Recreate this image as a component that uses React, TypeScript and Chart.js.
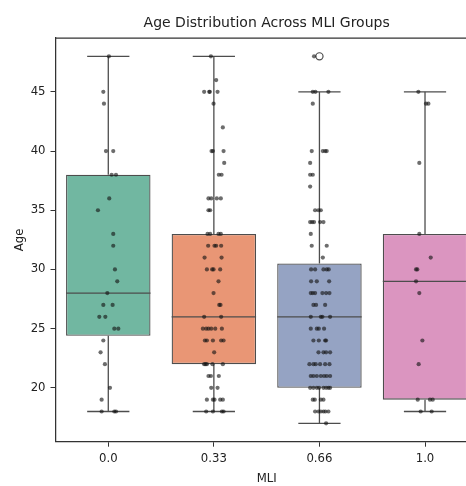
import React, { useEffect, useRef } from "react";
import { Chart, registerables } from "chart.js";

Chart.register(...registerables);

const categories = ["0.0", "0.33", "0.66", "1.0"];
const yTickValues = [20, 25, 30, 35, 40, 45];
const boxColors = ["#71b7a1", "#e99675", "#95a3c3", "#db95c0"];

const whiskerLow = [18, 18, 17, 18];
const quartile1 = [24.4, 22, 20, 19];
const medians = [28, 26, 26, 29];
const quartile3 = [38, 33, 30.5, 33];
const whiskerHigh = [48, 48, 45, 45];

const outlierGroups = [2];
const outlierValues = [48];

// strip points: ages and their jitter (in category units)
const ages0 = [48, 45, 44, 40, 40, 38, 38, 36, 35, 33, 32, 30, 29, 28, 27, 27, 26, 26, 25, 25, 24, 23, 22, 20, 19, 18, 18, 18];
const jitter0 = [0.006, -0.047, -0.041, -0.022, 0.047, 0.032, 0.073, 0.009, -0.098, 0.047, 0.047, 0.063, 0.085, -0.009, -0.047, 0.041, -0.085, -0.028, 0.057, 0.095, -0.047, -0.073, -0.032, 0.016, -0.063, -0.063, 0.057, 0.073];

const ages1 = [48, 46, 45, 45, 45, 45, 44, 42, 40, 40, 40, 39, 38, 38, 36, 36, 36, 36, 35, 35, 33, 33, 33, 33, 32, 32, 32, 32, 31, 31, 30, 30, 30, 30, 29, 28, 27, 27, 26, 26, 25, 25, 25, 25, 25, 25, 24, 24, 24, 24, 24, 23, 22, 22, 22, 22, 22, 21, 21, 21, 20, 20, 19, 19, 19, 19, 19, 18, 18, 18, 18];
const jitter1 = [-0.028, 0.022, -0.092, -0.044, -0.038, 0.035, -0.003, 0.085, -0.022, -0.009, 0.092, 0.098, 0.047, 0.073, -0.051, -0.025, 0.028, 0.066, -0.051, -0.035, -0.06, -0.035, 0.044, 0.066, -0.054, 0.006, 0.022, 0.069, -0.088, 0.073, -0.066, -0.016, -0.003, 0.06, 0.044, -0.003, 0.051, 0.063, -0.092, 0.069, -0.104, -0.073, -0.051, -0.025, 0.013, 0.076, -0.085, -0.066, -0.009, 0.069, 0.092, 0.003, -0.092, -0.079, -0.066, -0.013, 0.085, -0.051, -0.028, 0.047, -0.025, 0.035, -0.066, -0.009, 0.006, 0.06, 0.085, -0.073, -0.009, 0.076, 0.092];

const ages2 = [48, 45, 45, 45, 44, 40, 40, 40, 40, 39, 38, 38, 37, 35, 35, 35, 34, 34, 34, 34, 34, 33, 32, 32, 31, 30, 30, 30, 30, 30, 29, 29, 29, 28, 28, 28, 28, 28, 28, 27, 27, 27, 26, 26, 26, 26, 25, 25, 25, 25, 24, 24, 24, 24, 23, 23, 23, 23, 22, 22, 22, 22, 22, 22, 21, 21, 21, 21, 21, 21, 21, 20, 20, 20, 20, 20, 20, 20, 20, 19, 19, 19, 19, 18, 18, 18, 18, 18, 18, 17];
const jitter2 = [-0.051, -0.063, -0.038, 0.085, -0.063, -0.073, 0.032, 0.054, 0.069, -0.088, -0.088, -0.063, -0.088, -0.041, -0.009, 0.013, -0.088, -0.069, -0.051, 0.006, 0.038, -0.082, -0.073, 0.069, 0.032, -0.079, -0.041, 0.038, 0.069, 0.088, -0.079, -0.025, 0.092, -0.082, -0.063, -0.041, 0.028, 0.063, 0.095, -0.057, -0.032, 0.054, -0.082, 0.013, 0.028, 0.101, -0.082, -0.025, -0.006, 0.044, -0.057, -0.006, 0.054, 0.063, -0.009, 0.038, 0.063, 0.101, -0.095, -0.057, -0.035, 0.006, 0.054, 0.095, -0.082, -0.057, -0.025, 0.013, 0.044, 0.069, 0.101, -0.088, -0.057, -0.025, -0.003, 0.038, 0.063, 0.085, 0.101, -0.063, -0.044, 0.013, 0.038, -0.041, -0.009, 0.013, 0.038, 0.057, 0.085, 0.063];

const ages3 = [45, 44, 44, 39, 33, 31, 30, 30, 29, 28, 24, 22, 19, 19, 19, 18, 18];
const jitter3 = [-0.063, 0.009, 0.032, -0.054, -0.054, 0.054, -0.085, -0.073, -0.085, -0.054, -0.025, -0.06, -0.069, 0.047, 0.073, -0.041, 0.063];

const groupAges = [ages0, ages1, ages2, ages3];
const groupJitter = [jitter0, jitter1, jitter2, jitter3];

const FONT = "'DejaVu Sans', sans-serif";
const LINE = "#4d4d4d";
const AXIS = "#333333";
const CANVAS_W = 475;
const CANVAS_H = 478;

export default function App() {
  const ref = useRef<HTMLCanvasElement | null>(null);

  useEffect(() => {
    if (!ref.current) return;
    const prevOverflow = document.documentElement.style.overflow;
    const prevMargin = document.body.style.margin;
    document.documentElement.style.overflow = "hidden";
    document.body.style.margin = "0";

    const stripPoints: { x: number; y: number }[] = [];
    groupAges.forEach((arr, g) => {
      arr.forEach((age, k) => stripPoints.push({ x: g + groupJitter[g][k], y: age }));
    });
    const outlierPoints = outlierGroups.map((g, k) => ({ x: g, y: outlierValues[k] }));
    const boxData = categories.map((_, i) => ({ x: i, y: [quartile1[i], quartile3[i]] }));

    const boxLines = {
      id: "boxLines",
      afterDatasetDraw(chart: any, args: any) {
        if (args.index !== 2) return;
        const { ctx, scales } = chart;
        const xs = scales.x;
        const ys = scales.y;
        ctx.save();
        ctx.strokeStyle = LINE;
        ctx.lineWidth = 1.3;
        const seg = (x1: number, y1: number, x2: number, y2: number) => {
          ctx.beginPath();
          ctx.moveTo(xs.getPixelForValue(x1), ys.getPixelForValue(y1));
          ctx.lineTo(xs.getPixelForValue(x2), ys.getPixelForValue(y2));
          ctx.stroke();
        };
        categories.forEach((_, i) => {
          seg(i, quartile3[i], i, whiskerHigh[i]);
          seg(i, quartile1[i], i, whiskerLow[i]);
          seg(i - 0.2, whiskerHigh[i], i + 0.2, whiskerHigh[i]);
          seg(i - 0.2, whiskerLow[i], i + 0.2, whiskerLow[i]);
          seg(i - 0.4, medians[i], i + 0.4, medians[i]);
        });
        ctx.restore();
      },
      afterDraw(chart: any) {
        const { ctx, chartArea } = chart;
        ctx.save();
        ctx.strokeStyle = AXIS;
        ctx.lineWidth = 1.25;
        ctx.beginPath();
        ctx.moveTo(chartArea.left, chartArea.top);
        ctx.lineTo(chartArea.right, chartArea.top);
        ctx.lineTo(chartArea.right, chartArea.bottom);
        ctx.stroke();
        ctx.restore();
      },
    };

    const chart = new Chart(ref.current, {
      type: "bar",
      data: {
        datasets: [
          {
            type: "scatter",
            data: stripPoints,
            order: 1,
            pointRadius: 2.1,
            pointBackgroundColor: "rgba(20,20,20,0.62)",
            pointBorderWidth: 0,
            pointHoverRadius: 2.1,
          } as any,
          {
            type: "scatter",
            data: outlierPoints,
            order: 1,
            pointRadius: 3.6,
            pointBackgroundColor: "rgba(0,0,0,0)",
            pointBorderColor: LINE,
            pointBorderWidth: 1.2,
          } as any,
          {
            type: "bar",
            data: boxData,
            order: 3,
            backgroundColor: boxColors,
            borderColor: LINE,
            borderWidth: 1.3,
            borderSkipped: false,
            categoryPercentage: 0.8,
            barPercentage: 1,
          } as any,
        ],
      },
      options: {
        animation: false,
        responsive: false,
        events: [],
        layout: { padding: { left: 0, right: 0, top: 0, bottom: 0 } },
        plugins: {
          legend: { display: false },
          tooltip: { enabled: false },
          title: {
            display: true,
            fullSize: false,
            text: "Age Distribution Across MLI Groups",
            color: "#222",
            font: { family: FONT, size: 14, weight: "normal" as any, lineHeight: 1.2 },
            padding: { top: 7, bottom: 6.2 },
          },
        },
        scales: {
          x: {
            type: "linear",
            min: -0.5,
            max: 3.5,
            offset: false,
            afterBuildTicks: (scale: any) => {
              scale.ticks = categories.map((_, i) => ({ value: i }));
            },
            afterFit: (scale: any) => {
              scale.height = 44.3;
              scale.paddingLeft = 0;
              scale.paddingRight = 0;
            },
            ticks: {
              color: "#222",
              font: { family: FONT, size: 11.7 },
              padding: 5,
              maxRotation: 0,
              autoSkip: false,
              callback: (v: any) => categories[Math.round(Number(v))] ?? "",
            },
            grid: { display: true, drawOnChartArea: false, drawTicks: true, tickLength: 5, color: AXIS, offset: false },
            border: { display: true, color: AXIS, width: 1.25 },
            title: {
              display: true,
              text: "MLI",
              color: "#222",
              font: { family: FONT, size: 11.7 },
              padding: { top: 0, bottom: 0 },
            },
          },
          y: {
            type: "linear",
            min: 15.45,
            max: 49.55,
            afterBuildTicks: (scale: any) => {
              scale.ticks = yTickValues.map((v) => ({ value: v }));
            },
            afterFit: (scale: any) => {
              scale.width = 47.5;
              scale.paddingTop = 0;
              scale.paddingBottom = 0;
            },
            ticks: {
              color: "#222",
              font: { family: FONT, size: 11.7 },
              padding: 5,
              callback: (v: any) => String(v),
            },
            grid: { display: true, drawOnChartArea: false, drawTicks: true, tickLength: 5, color: AXIS },
            border: { display: true, color: AXIS, width: 1.25 },
            title: {
              display: true,
              text: "Age",
              color: "#222",
              font: { family: FONT, size: 11.7 },
              padding: { top: 5, bottom: 0 },
            },
          },
        },
      } as any,
      plugins: [boxLines],
    });

    return () => {
      chart.destroy();
      document.documentElement.style.overflow = prevOverflow;
      document.body.style.margin = prevMargin;
    };
  }, []);

  return (
    <div style={{ width: 466, height: 486, overflow: "hidden", boxSizing: "border-box", paddingLeft: 8, paddingTop: 8 }}>
      <div style={{ width: CANVAS_W, height: CANVAS_H }}>
        <canvas ref={ref} width={CANVAS_W} height={CANVAS_H} style={{ display: "block" }} />
      </div>
    </div>
  );
}
